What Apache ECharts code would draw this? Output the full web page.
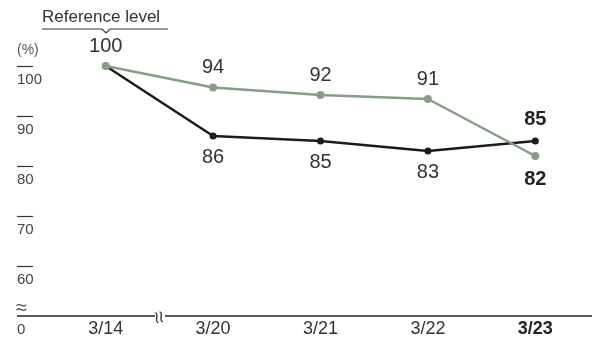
<!DOCTYPE html>
<html>
<head>
<meta charset="utf-8">
<script src="https://cdn.jsdelivr.net/npm/echarts@6/dist/echarts.min.js"></script>
<style>
html, body { margin: 0; padding: 0; background: #fff; }
#chart { width: 592px; height: 344px; }
</style>
</head>
<body>
<div id="chart"></div>
<script>
var categories = ['3/14', '3/20', '3/21', '3/22', '3/23'];
var blackValues = [100, 86, 85, 83, 85];
// green line is drawn a little off its printed numbers in the original
var greenValues = [100, 95.7, 94.2, 93.4, 82];
var greenLabels = [100, 94, 92, 91, 82];
var yTicks = [60, 70, 80, 90, 100];

var font = 'Liberation Sans, Arial, sans-serif';
var last = categories.length - 1;

function blackData() {
	return blackValues.map(function(v, i) {
		var lab = { show: i > 0, position: 'bottom', distance: 8 };
		if (i === last) {
			lab.position = 'top';
			lab.fontWeight = 'bold';
			lab.color = '#222';
		}
		return { value: v, label: lab };
	});
}

function greenData() {
	return greenValues.map(function(v, i) {
		var lab = { show: true, position: 'top', distance: 6, formatter: String(greenLabels[i]) };
		if (i === last) {
			lab.position = 'bottom';
			lab.distance = 9;
			lab.fontWeight = 'bold';
			lab.color = '#222';
		}
		return { value: v, label: lab };
	});
}

var option = {
	backgroundColor: '#fff',
	animation: false,
	textStyle: { fontFamily: font },
	grid: { left: 52, right: 3, top: 66, bottom: 28 },
	xAxis: {
		type: 'category',
		data: categories,
		boundaryGap: true,
		axisLine: { show: false },
		axisTick: { show: false },
		axisLabel: {
			margin: 4,
			fontSize: 18,
			color: '#333',
			fontFamily: font,
			formatter: function(v, i) {
				return i === last ? '{b|' + v + '}' : v;
			},
			rich: { b: { fontWeight: 'bold', fontSize: 18, color: '#222', fontFamily: font } }
		}
	},
	yAxis: {
		type: 'value',
		min: 50,
		max: 100,
		interval: 10,
		offset: 35,
		name: '(%)',
		nameLocation: 'end',
		nameGap: 16,
		nameTextStyle: { align: 'left', verticalAlign: 'middle', fontSize: 14, color: '#555', fontFamily: font },
		axisLine: { show: false },
		splitLine: { show: false },
		axisTick: { show: true, inside: true, length: 16, customValues: yTicks, lineStyle: { color: '#333', width: 1.2 } },
		axisLabel: {
			inside: true,
			margin: 0,
			align: 'left',
			verticalAlign: 'top',
			padding: [6, 0, 0, 0],
			fontSize: 15,
			color: '#444',
			fontFamily: font,
			formatter: function(v) { return v === 50 ? '0' : String(v); }
		}
	},
	series: [{
		name: 'black',
		type: 'line',
		data: blackData(),
		symbol: 'circle',
		symbolSize: 7,
		color: '#1c1c1c',
		lineStyle: { width: 2.5, color: '#1c1c1c' },
		label: { fontSize: 20, color: '#333', fontFamily: font }
	}, {
		name: 'green',
		type: 'line',
		data: greenData(),
		symbol: 'circle',
		symbolSize: 8,
		color: '#879e86',
		lineStyle: { width: 2.5, color: '#879e86' },
		label: { fontSize: 20, color: '#333', fontFamily: font }
	}],
	graphic: [
		{ type: 'line', shape: { x1: 17, y1: 316, x2: 592, y2: 316 }, style: { stroke: '#222', lineWidth: 1.5 }, z: 10 },
		{ type: 'rect', shape: { x: 155, y: 309, width: 10, height: 15 }, style: { fill: '#fff' }, z: 11 },
		{ type: 'text', x: 160, y: 317, rotation: Math.PI / 2 + 0.2, style: { text: '≈', font: '22px ' + font, align: 'center', verticalAlign: 'middle', fill: '#444' }, z: 12 },
		{ type: 'text', x: 16, y: 308, style: { text: '≈', font: '20px ' + font, align: 'left', verticalAlign: 'middle', fill: '#555' } },
		{ type: 'text', x: 42, y: 17, style: { text: 'Reference level', font: '17px ' + font, align: 'left', verticalAlign: 'middle', fill: '#333' } },
		{ type: 'polyline', shape: { points: [[42, 29], [102, 29], [106, 33], [110, 29], [168, 29]] }, style: { stroke: '#333', lineWidth: 1.2, fill: null } }
	]
};

var chart = echarts.init(document.getElementById('chart'));
chart.setOption(option);
</script>
</body>
</html>
